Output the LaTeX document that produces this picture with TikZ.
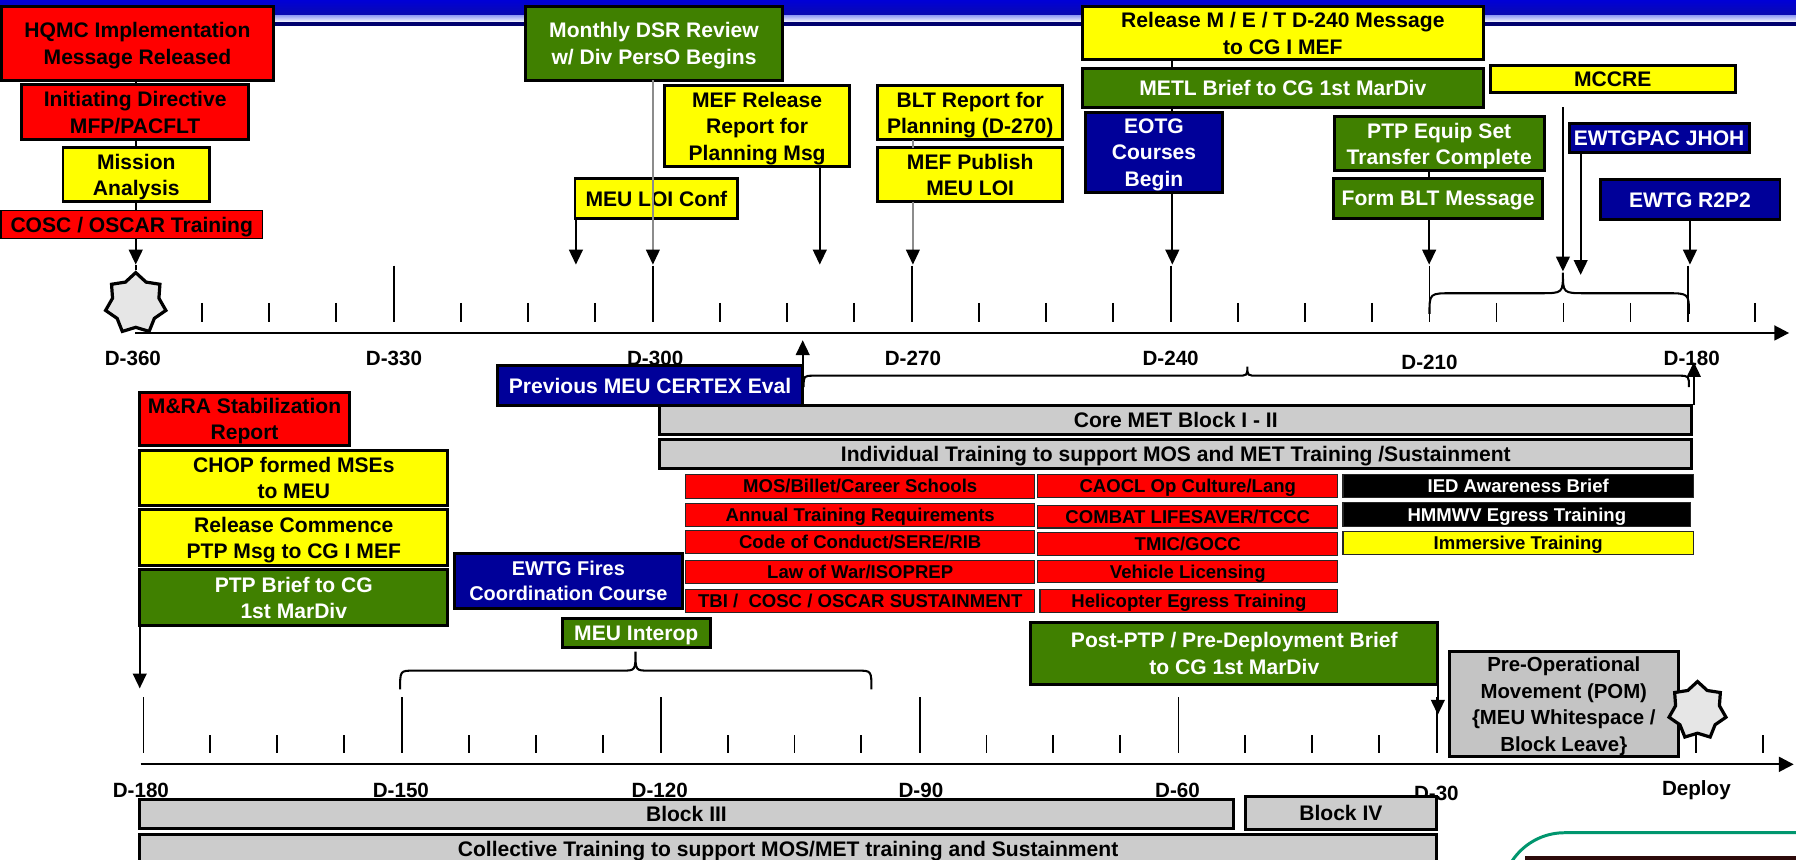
\documentclass[tikz,border=0pt]{standalone}
\usepackage{fontspec}
\setmainfont{Liberation Sans}
\usetikzlibrary{arrows.meta,shapes.geometric}
\definecolor{cred}{RGB}{255,0,0}
\definecolor{cyel}{RGB}{255,255,0}
\definecolor{cgrn}{RGB}{64,128,0}
\definecolor{cnavy}{RGB}{0,0,153}
\definecolor{cgray}{RGB}{204,204,204}
\definecolor{cpom}{RGB}{196,196,196}
\definecolor{cstar}{RGB}{230,230,230}
\definecolor{cteal}{RGB}{0,150,110}
\definecolor{hblue}{RGB}{0,0,215}
\definecolor{hblue2}{RGB}{10,10,175}
\definecolor{hlight}{RGB}{150,160,245}
\definecolor{hnavy}{RGB}{0,0,110}
\definecolor{cdark}{RGB}{45,10,10}

\newcommand\bx[7]{%
  \pgfmathsetmacro\bxw{(#5-#3)*0.5}%
  \pgfmathsetmacro\bxh{(#6-#4)*0.5}%
  \pgfmathsetmacro\bxx{(#3+#5)/2}%
  \pgfmathsetmacro\bxy{(#4+#6)/2}%
  \node[#2,minimum width=\bxw pt,minimum height=\bxh pt] (#1) at (\bxx,\bxy) {#7};}

% x1 x2 xtip yh yend ytip r
\newcommand\brc[7]{%
  \draw[brcl] (#1,#5) .. controls (#1,#4) and (#1,#4) .. ({#1+#7},#4) -- ({#3-#7},#4)
    .. controls (#3,#4) and (#3,#4) .. (#3,#6)
    .. controls (#3,#4) and (#3,#4) .. ({#3+#7},#4) -- ({#2-#7},#4)
    .. controls (#2,#4) and (#2,#4) .. (#2,#5);}

\begin{document}
\begin{tikzpicture}[x=0.5pt,y=-0.5pt,
  box/.style={draw=black,line width=1.3pt,inner sep=0pt,outer sep=0pt,align=center,
     text depth=0pt,font=\bfseries\fontsize{9.2}{11.6}\selectfont},
  redb/.style={box,fill=cred},
  yelb/.style={box,fill=cyel},
  grnb/.style={box,fill=cgrn,text=white},
  navb/.style={box,fill=cnavy,text=white},
  grayb/.style={box,fill=cgray},
  thinb/.style={draw=black!85,line width=0.5pt,inner sep=0pt,outer sep=0pt,align=center,
     text depth=0pt,font=\bfseries\fontsize{8.1}{9.5}\selectfont},
  sred/.style={thinb,fill=cred},
  sblk/.style={thinb,fill=black,text=white},
  syel/.style={thinb,fill=cyel},
  lbl/.style={inner sep=0pt,font=\bfseries\fontsize{9}{11}\selectfont},
  tick/.style={line width=0.8pt},
  axisl/.style={line width=1pt,-{Triangle[length=6.5pt,width=6.5pt]}},
  conn/.style={line width=0.8pt},
  arr/.style={line width=0.8pt,-{Triangle[length=6.5pt,width=6pt]}},
  garr/.style={draw=black!45,line width=0.6pt,-{Triangle[length=6.5pt,width=6pt,color=black]}},
  gconn/.style={draw=black!45,line width=0.6pt},
  brcl/.style={line width=0.9pt},
  starn/.style={star,star points=7,star point ratio=1.3,draw=black,line width=1.4pt,
     fill=cstar,inner sep=0pt}
]
\useasboundingbox (0,0) rectangle (1568,750);
\fill[white] (0,0) rectangle (1568,750);

% header bar
\shade[top color=hblue,bottom color=hblue2] (0,0) rectangle (1568,13.5);
\shade[top color=hlight,bottom color=white] (0,13.5) rectangle (1568,19.5);
\fill[hnavy] (0,19.5) rectangle (1568,22.5);

% ---------------- top axis ----------------
\coordinate (ax1) at (118,290.7);
\coordinate (ax2) at (1562,290.7);
\draw[axisl] (ax1) -- (ax2);
\foreach \m in {344,570,796,1022,1248,1474} \draw[tick] (\m,232) -- (\m,281);
\foreach \m in {118,344,570,796,1022,1248} {
  \foreach \k in {1,2,3} \draw[tick] ({\m+58.5*\k},264.5) -- ({\m+58.5*\k},281);
}
\draw[tick] (1532.5,264.5) -- (1532.5,281);

\node[lbl] (l360) at (116,313) {D-360};
\node[lbl] (l330) at (344,313) {D-330};
\node[lbl] (l300) at (572,313) {D-300};
\node[lbl] (l270) at (797,313) {D-270};
\node[lbl] (l240) at (1022,313) {D-240};
\node[lbl] (l210) at (1248,316) {D-210};
\node[lbl] (l180a) at (1477,313) {D-180};

% ---------------- bottom axis ----------------
\coordinate (bx1) at (122.8,667.3);
\coordinate (bx2) at (1566,667.3);
\draw[axisl] (bx1) -- (bx2);
\foreach \i in {0,...,6} \draw[tick] ({125.3+225.9*\i},608.8) -- ({125.3+225.9*\i},657.7);
\foreach \i in {0,...,5} {
  \foreach \k in {1,2,3} \draw[tick] ({125.3+225.9*\i+58.3*\k},641.7) -- ({125.3+225.9*\i+58.3*\k},657.7);
}
\draw[tick] (1539,641.7) -- (1539,657.7);

\node[lbl] (l180b) at (123,690) {D-180};
\node[lbl] (l150) at (350,690) {D-150};
\node[lbl] (l120) at (576,690) {D-120};
\node[lbl] (l90) at (804,690) {D-90};
\node[lbl] (l60) at (1028,690) {D-60};
\node[lbl] (l30) at (1254,693) {D-30};
\node[lbl] (ldep) at (1481,690) {Deploy};

% stars
\node[starn,minimum size=27pt] (st1) at (118.5,265) {};

% ---------------- top boxes ----------------
\bx{hqmc}{redb}{1}{6}{239}{70}{HQMC Implementation\\Message Released}
\bx{init}{redb}{19}{74}{217}{122}{Initiating Directive\\MFP/PACFLT}
\bx{mission}{yelb}{55}{129}{183}{176}{Mission\\Analysis}
\bx{cosc}{redb,line width=0.6pt}{1}{184}{229}{208}{COSC / OSCAR Training}
\bx{dsr}{grnb}{459}{6}{683}{70}{Monthly DSR Review\\w/ Div PersO Begins}
\bx{mefrel}{yelb}{580}{75}{742}{145}{MEF Release\\Report for\\Planning Msg}
\bx{meuloi}{yelb}{502}{156}{644}{191}{MEU LOI Conf}
\bx{blt}{yelb}{766}{75}{928}{122}{BLT Report for\\Planning (D-270)}
\bx{mefpub}{yelb}{766}{129}{928}{176}{MEF Publish\\MEU LOI}
\bx{rel240}{yelb}{945}{6}{1295}{52}{Release M / E / T D-240 Message\\to CG I MEF}
\bx{metl}{grnb}{945}{60}{1295}{94}{METL Brief to CG 1st MarDiv}
\bx{eotg}{navb}{948}{98}{1067}{168}{EOTG\\Courses\\Begin}
\bx{mccre}{yelb}{1301}{57}{1515}{81}{MCCRE}
\bx{ptpeq}{grnb}{1165}{102}{1348}{149}{PTP Equip Set\\Transfer Complete}
\bx{formblt}{grnb}{1164}{156}{1347}{191}{Form BLT Message}
\bx{ewtgpac}{navb}{1370}{108}{1527}{133}{EWTGPAC JHOH}
\bx{rtwo}{navb}{1397}{157}{1554}{192}{EWTG R2P2}

% ---------------- middle boxes ----------------
\bx{cert}{navb}{434}{319.5}{701}{354}{Previous MEU CERTEX Eval}
\bx{core}{grayb}{576}{353.6}{1477}{379}{Core MET Block I - II}
\bx{indiv}{grayb}{576}{383.6}{1477}{409}{Individual Training to support MOS and MET Training /Sustainment}

\bx{sa}{sred}{598.6}{414}{903.4}{435}{MOS/Billet/Career Schools}
\bx{sb}{sred}{598.6}{439.4}{903.4}{459.8}{Annual Training Requirements}
\bx{sc}{sred}{598.6}{463.3}{903.4}{483}{Code of Conduct/SERE/RIB}
\bx{sd}{sred}{598.6}{489}{903.4}{509.3}{Law of War/ISOPREP}
\bx{se}{sred}{598.6}{514.5}{903.4}{535}{TBI /~ COSC / OSCAR SUSTAINMENT}
\bx{ca}{sred}{906}{414}{1168}{434}{CAOCL Op Culture/Lang}
\bx{cb}{sred}{906}{441}{1168}{461}{COMBAT LIFESAVER/TCCC}
\bx{cc}{sred}{906}{465}{1168}{485}{TMIC/GOCC}
\bx{cd}{sred}{906}{489}{1168}{508.7}{Vehicle Licensing}
\bx{ce}{sred}{908}{514.5}{1168}{535}{Helicopter Egress Training}
\bx{ka}{sblk}{1172.5}{414}{1478.5}{434}{IED Awareness Brief}
\bx{kb}{sblk}{1172.5}{439}{1476}{460}{HMMWV Egress Training}
\bx{kc}{syel}{1172.5}{464}{1478.5}{484}{Immersive Training}

\bx{mra}{redb}{122}{342.5}{305}{389}{M\&RA Stabilization\\Report}
\bx{chop}{yelb}{122}{393}{391}{441.5}{CHOP formed MSEs\\to MEU}
\bx{relc}{yelb}{122}{445}{391}{494}{Release Commence\\PTP Msg to CG I MEF}
\bx{ptpb}{grnb}{122}{497.6}{391}{546.5}{PTP Brief to CG\\1st MarDiv}
\bx{fires}{navb,font=\bfseries\fontsize{8.7}{11.2}\selectfont}{397}{483}{595.5}{531}{EWTG Fires\\Coordination Course}
\bx{interop}{grnb}{491}{540}{620}{565}{MEU Interop}
\bx{postptp}{grnb}{900}{543.6}{1255.3}{597.2}{Post-PTP / Pre-Deployment Brief\\to CG 1st MarDiv}
\bx{pom}{box,fill=cpom,font=\bfseries\fontsize{8.9}{11.6}\selectfont}{1265.5}{569}{1465}{660.6}{Pre-Operational\\Movement (POM)\\\{MEU Whitespace /\\Block Leave\}}

\node[starn,minimum size=25.5pt] (st2) at (1482,620.5) {};

% bottom blocks
\bx{blk3}{grayb}{121.8}{697.6}{1076.8}{723.2}{Block III}
\bx{blk4}{grayb}{1087}{695}{1254.3}{724.6}{Block IV}
\bx{coll}{grayb}{121.8}{728.4}{1254.3}{754}{Collective Training to support MOS/MET training and Sustainment}

% bottom-right partial frame
\draw[cteal,line width=1.3pt,rounded corners=27.5pt] (1311,800) -- (1311,727) -- (1600,727);
\fill[cdark] (1331.6,747) rectangle (1568,751);

% ---------------- connectors ----------------
\coordinate (t1) at (118.5,231);
\draw[conn] (hqmc.south -| t1) -- (init.north -| t1);
\draw[conn] (init.south -| t1) -- (mission.north -| t1);
\draw[conn] (mission.south -| t1) -- (cosc.north -| t1);
\draw[arr] (cosc.south -| t1) -- (t1);
\draw[conn] (t1) -- (st1.north);

\coordinate (t2) at (502.8,231);
\draw[arr] (meuloi.south -| t2) -- (t2);
\coordinate (t3) at (570,231);
\draw[garr] (dsr.south -| t3) -- (t3);
\coordinate (t4) at (715.7,231);
\draw[arr] (mefrel.south -| t4) -- (t4);
\coordinate (t5) at (797,231);
\draw[gconn] (blt.south -| t5) -- (mefpub.north -| t5);
\draw[garr] (mefpub.south -| t5) -- (t5);
\coordinate (t6) at (1023.5,231);
\draw[conn] (rel240.south -| t6) -- (metl.north -| t6);
\draw[conn] (metl.south -| t6) -- (eotg.north -| t6);
\draw[arr] (eotg.south -| t6) -- (t6);
\coordinate (t7) at (1247.7,231);
\draw[conn] (ptpeq.south -| t7) -- (formblt.north -| t7);
\draw[arr] (formblt.south -| t7) -- (t7);
\coordinate (m0) at (1364.5,93.5);
\coordinate (bt1) at (1364.5,237);
\draw[arr] (m0) -- (bt1);
\coordinate (t9) at (1380,240);
\draw[arr] (ewtgpac.south -| t9) -- (t9);
\coordinate (t10) at (1475.4,231);
\draw[arr] (rtwo.south -| t10) -- (t10);

\coordinate (t11) at (700.8,297);
\draw[arr] (cert.south east -| t11) -- (t11);
\coordinate (t12) at (1478.8,316);
\draw[arr] (core.north east -| t12) -- (t12);

\coordinate (t13) at (122,601);
\draw[arr] (ptpb.south west -| t13) -- (t13);
\coordinate (t14) at (1255.3,624);
\draw[arr] (postptp.south east -| t14) -- (t14);

% braces
\brc{1248}{1474.5}{1364.5}{256}{274}{238}{20}
\brc{701.6}{1474.5}{1089}{328}{338}{320}{9}
\brc{349.3}{760.8}{554.8}{585.5}{601.8}{569}{12}

\end{tikzpicture}
\end{document}
